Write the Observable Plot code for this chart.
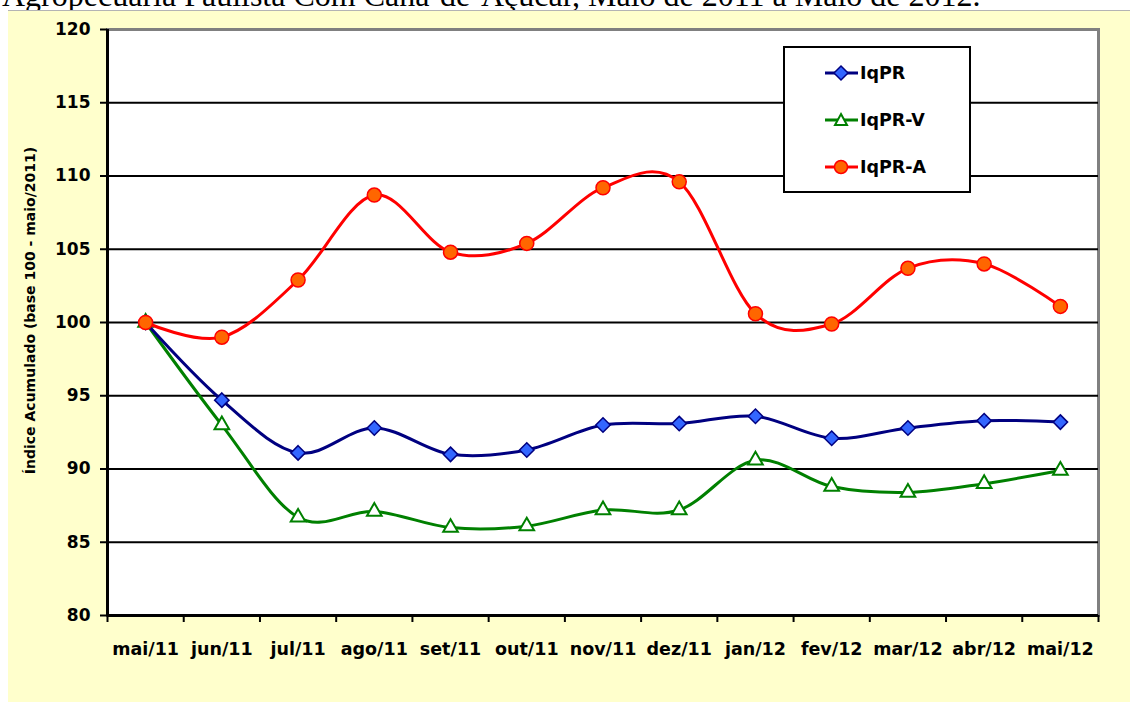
<!DOCTYPE html>
<html>
<head>
<meta charset="utf-8">
<script src="https://cdn.jsdelivr.net/npm/d3@7"></script>
<script src="https://cdn.jsdelivr.net/npm/@observablehq/plot@0.6"></script>
<style>
  html, body { margin: 0; padding: 0; background: #fff; width: 1130px; height: 702px; overflow: hidden; }
  #title { position: absolute; left: 2px; top: -20px; font-family: "Liberation Serif", "Times New Roman", serif; font-size: 32px; line-height: 30px; white-space: nowrap; color: #000; }
  #panel { position: absolute; left: 8px; top: 10px; width: 1122px; height: 692px; background: #FFFFCC; border-top: 1px solid #b4b4b4; }
  #chart { position: absolute; left: 0; top: 0; }
  #legend { position: absolute; left: 783px; top: 46px; width: 184px; height: 143px; background: #fff; border: 2px solid #000; font-family: "DejaVu Sans", sans-serif; font-weight: bold; font-size: 17.5px; }
  .row { position: absolute; left: 40px; height: 24px; display: flex; align-items: center; }
  .row svg { margin-right: 2px; }
</style>
</head>
<body>
<div id="title">Agropecuária Paulista Com Cana-de-Açúcar, Maio de 2011 a Maio de 2012.</div>
<div id="panel"></div>
<div id="chart"></div>
<div id="legend"></div>
<script>
const months = ["mai/11","jun/11","jul/11","ago/11","set/11","out/11","nov/11","dez/11","jan/12","fev/12","mar/12","abr/12","mai/12"];
const iqpr  = [100, 94.7, 91.1, 92.8, 91.0, 91.3, 93.0, 93.1, 93.6, 92.1, 92.8, 93.3, 93.2];
const iqprV = [100, 93.0, 86.7, 87.1, 86.0, 86.1, 87.2, 87.2, 90.6, 88.8, 88.4, 89.0, 89.9];
const iqprA = [100, 99.0, 102.9, 108.7, 104.8, 105.4, 109.2, 109.6, 100.6, 99.9, 103.7, 104.0, 101.1];
const yTicks = [80, 85, 90, 95, 100, 105, 110, 115, 120];
const seriesNames = ["IqPR", "IqPR-V", "IqPR-A"];
const yLabel = "Índice Acumulado (base 100 - maio/2011)";

const toRows = (vals) => vals.map((v, i) => ({i, v}));
const dB = toRows(iqpr), dV = toRows(iqprV), dA = toRows(iqprA);

const blueLine = "#000080", blueFill = "#3366FF";
const green = "#008000";
const red = "#FF0000", orange = "#FF6600";

const chart = Plot.plot({
  width: 1130,
  height: 702,
  marginLeft: 107,
  marginRight: 32,
  marginTop: 29,
  marginBottom: 87,
  style: {background: "transparent", fontFamily: "DejaVu Sans", fontWeight: "bold", fontSize: "17px", color: "#000", overflow: "visible"},
  x: {type: "linear", domain: [-0.5, 12.5]},
  y: {domain: [80, 120]},
  marks: [
    Plot.frame({fill: "white", stroke: "#808080", strokeWidth: 3}),
    Plot.ruleY(yTicks.filter(t => t > 80 && t < 120), {stroke: "#000", strokeWidth: 2}),
    Plot.ruleY([80], {stroke: "#000", strokeWidth: 3}),
    Plot.ruleX([-0.5], {stroke: "#000", strokeWidth: 3}),
    Plot.axisY({ticks: yTicks, tickSize: 7, tickPadding: 10, label: null, strokeWidth: 2, strokeOpacity: 1, fontSize: 17}),
    Plot.axisX({ticks: d3.range(14).map(k => k - 0.5), tickSize: 7, tickFormat: () => "", label: null, strokeWidth: 2, strokeOpacity: 1}),
    Plot.axisX({ticks: d3.range(13), tickSize: 0, tickPadding: 27, tickFormat: i => months[i], label: null, fontSize: 17.5}),
    Plot.text([yLabel], {frameAnchor: "left", rotate: -90, dx: -73, dy: -12, fontSize: 14, lineAnchor: "bottom", textAnchor: "middle"}),
    // IqPR-V
    Plot.line(dV, {x: "i", y: "v", curve: "cardinal", stroke: green, strokeWidth: 3}),
    Plot.dot(dV, {x: "i", y: "v", symbol: "triangle2", r: 7, fill: "white", stroke: green, strokeWidth: 2}),
    // IqPR
    Plot.line(dB, {x: "i", y: "v", curve: "cardinal", stroke: blueLine, strokeWidth: 3}),
    Plot.dot(dB, {x: "i", y: "v", symbol: "diamond2", r: 6.5, fill: blueFill, stroke: blueLine, strokeWidth: 1.5}),
    // IqPR-A
    Plot.line(dA, {x: "i", y: "v", curve: "cardinal", stroke: red, strokeWidth: 3}),
    Plot.dot(dA, {x: "i", y: "v", symbol: "circle", r: 7, fill: orange, stroke: red, strokeWidth: 1.5})
  ]
});
document.getElementById("chart").appendChild(chart);

// Legend
const legend = document.getElementById("legend");
const legendSpec = [
  {name: seriesNames[0], stroke: blueLine, fill: blueFill, shape: "diamond"},
  {name: seriesNames[1], stroke: green, fill: "white", shape: "triangle"},
  {name: seriesNames[2], stroke: red, fill: orange, shape: "circle"}
];
legendSpec.forEach((s, k) => {
  const row = document.createElement("div");
  row.className = "row";
  row.style.top = (13 + k * 47) + "px";
  let marker;
  if (s.shape === "diamond") marker = `<path d="M16,5 L23,12 L16,19 L9,12 Z" fill="${s.fill}" stroke="${s.stroke}" stroke-width="1.5"/>`;
  else if (s.shape === "triangle") marker = `<path d="M16,6 L22,17 L10,17 Z" fill="${s.fill}" stroke="${s.stroke}" stroke-width="2"/>`;
  else marker = `<circle cx="16" cy="12" r="6.5" fill="${s.fill}" stroke="${s.stroke}" stroke-width="1.5"/>`;
  row.innerHTML = `<svg width="33" height="24"><line x1="0" x2="33" y1="12" y2="12" stroke="${s.stroke}" stroke-width="3"/>${marker}</svg><span>${s.name}</span>`;
  legend.appendChild(row);
});
</script>
</body>
</html>
